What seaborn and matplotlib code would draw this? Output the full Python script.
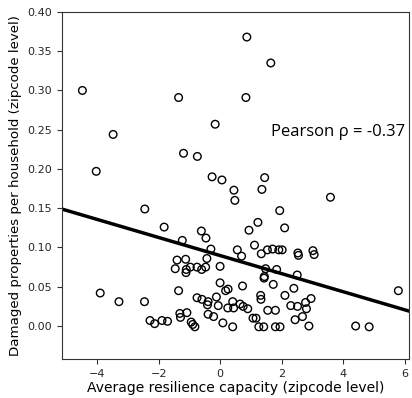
import numpy as np
import pandas as pd
import matplotlib
matplotlib.use('Agg')
import matplotlib.pyplot as plt
import seaborn as sns

# values
resilience = [
    -4.48, -3.48, -4.03, -1.35, -1.19, -0.74, -0.16, 0.87, 1.65, 0.84,
    -0.26, 0.06, 0.45, 0.48, 1.45, 1.36, 3.59,
    -2.45, -1.82, -0.61, -0.46, -1.23, -0.30, -1.40, -1.12, -0.43, -1.46,
    -1.10, -1.11, -0.97, -0.75, -0.60, -0.47, 0.00, 0.56,
    -3.90, -3.29, -2.46, -1.35, 0.00, 0.18, 0.26, -0.75, -0.59, -0.39,
    -0.41, -0.12, -0.06, 0.25, 0.41, 0.44, 0.65, -1.31, -1.29, -1.08,
    -0.39, -0.21, 0.09, 0.41, -2.28, -2.13, -1.89, -1.71, -0.94, -0.89, -0.82,
    1.94, 1.23, 2.10, 0.94, 1.12, 0.70, 1.34, 1.54, 1.71, 1.91, 2.02,
    2.53, 2.55, 3.02, 3.06, 1.48, 1.84, 1.44, 1.43, 2.51, 1.73, 0.73,
    2.40, 2.11, 1.32, 1.33, 0.75, 0.90, 1.55, 1.80, 2.30, 2.52, 2.78,
    2.96, 2.81, 2.68, 2.44, 2.89, 1.07, 1.17, 1.26, 1.42, 1.80, 1.95,
    4.41, 4.85, 5.80,
]
damage = [
    0.300, 0.244, 0.197, 0.291, 0.220, 0.216, 0.257, 0.368, 0.335, 0.291,
    0.190, 0.186, 0.173, 0.160, 0.189, 0.174, 0.164,
    0.149, 0.126, 0.121, 0.112, 0.109, 0.098, 0.084, 0.085, 0.086, 0.073,
    0.072, 0.068, 0.075, 0.075, 0.072, 0.075, 0.076, 0.097,
    0.042, 0.031, 0.031, 0.045, 0.055, 0.045, 0.047, 0.036, 0.034, 0.031,
    0.027, 0.037, 0.026, 0.023, 0.031, 0.023, 0.028, 0.016, 0.011, 0.017,
    0.015, 0.012, 0.004, -0.001, 0.007, 0.003, 0.007, 0.006, 0.005, 0.002, -0.001,
    0.147, 0.132, 0.125, 0.122, 0.103, 0.089, 0.092, 0.097, 0.098, 0.097, 0.097,
    0.093, 0.090, 0.096, 0.091, 0.073, 0.072, 0.063, 0.061, 0.065, 0.053, 0.051,
    0.048, 0.039, 0.039, 0.034, 0.025, 0.022, 0.020, 0.020, 0.026, 0.025, 0.030,
    0.035, 0.022, 0.012, 0.008, 0.000, 0.010, 0.010, -0.001, -0.001, -0.001, -0.001,
    0.000, -0.001, 0.045,
]

# fitted line as shown in the reference (ends read at the axis edges)
fit_x = [-5.15, 6.15]
fit_y = [0.149, 0.019]

df = pd.DataFrame({'resilience': resilience, 'damage': damage})
fit = pd.DataFrame({'resilience': fit_x, 'damage': fit_y})

fig = plt.figure(figsize=(4.12, 3.98), dpi=100)
ax = fig.add_axes([0.150, 0.098, 0.843, 0.872])

sns.scatterplot(data=df, x='resilience', y='damage', ax=ax, s=30,
                facecolors='none', edgecolor='black', linewidth=1)
sns.lineplot(data=fit, x='resilience', y='damage', ax=ax, color='black', linewidth=2.5)

ax.set_xlim(-5.15, 6.15)
ax.set_ylim(-0.042, 0.40)
ax.set_yticks(np.arange(0, 0.41, 0.05))
ax.tick_params(labelsize=8, colors='#333333', labelcolor='#262626')
for s in ax.spines.values():
    s.set_color('#333333')
ax.set_xlabel('Average resilience capacity (zipcode level)', fontsize=10, labelpad=2)
ax.set_ylabel('Damaged properties per household (zipcode level)', fontsize=9.6, labelpad=4)
ax.text(0.988, 0.655, 'Pearson \u03c1 = -0.37', transform=ax.transAxes, ha='right', va='center',
        fontsize=12, family=['Open Sans', 'DejaVu Sans'])

fig.savefig('out.png', dpi=100)
